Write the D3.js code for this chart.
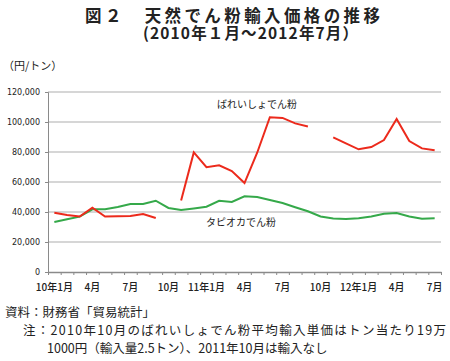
<!DOCTYPE html>
<html>
<head>
<meta charset="utf-8">
<script src="https://cdn.jsdelivr.net/npm/d3@7"></script>
<style>
  body { margin: 0; background: #fff; }
  svg { display: block; }
  .jp { font-family: "Noto Sans CJK JP", "Noto Sans", sans-serif; }
  .num { font-family: "DejaVu Sans", Verdana, sans-serif; }
</style>
</head>
<body>
<div id="chart"></div>
<script>
// months Jan 2010 .. Jul 2012
const months = d3.range(31).map(i => i);

const tickLabels = ["10年1月", "4月", "7月", "10月", "11年1月", "4月", "7月", "10月", "12年1月", "4月", "7月"];
const tickIndex = [0, 3, 6, 9, 12, 15, 18, 21, 24, 27, 30];

const yTicks = [0, 20000, 40000, 60000, 80000, 100000, 120000];

// ばれいしょでん粉 (null = no data point drawn)
const potato = [
  39500, 38000, 37000, 42800, 37000, 37100, 37300, 38600, 36000, null,
  47600, 79700, 69900, 71100, 67300, 59300, 79500, 103200, 102700, 99100,
  97000, null, 89800, 85800, 81800, 83300, 88000, 102000, 87300, 82400,
  81100
];

// タピオカでん粉
const tapioca = [
  33300, 35200, 36900, 41800, 41900, 43400, 45300, 45300, 47500, 42700,
  41300, 42400, 43500, 47500, 46700, 50500, 50000, 48000, 46000, 43200,
  40500, 37000, 35700, 35300, 35900, 37000, 38800, 39300, 37000, 35500,
  35800
];

const width = 450, height = 361;
const plot = { left: 48, right: 441, top: 92, bottom: 272 };

const svg = d3.select("#chart").append("svg")
  .attr("width", width)
  .attr("height", height);

const x = d3.scaleBand()
  .domain(months)
  .range([plot.left, plot.right])
  .padding(0);

const xEdge = d3.scaleLinear()
  .domain([0, months.length])
  .range([plot.left, plot.right]);

const y = d3.scaleLinear()
  .domain([0, 120000])
  .range([plot.bottom, plot.top]);

// title
svg.append("text")
  .attr("class", "jp")
  .attr("x", 85).attr("y", 22)
  .attr("font-size", 16.5).attr("font-weight", 700)
  .attr("textLength", 295).attr("lengthAdjust", "spacing")
  .attr("fill", "#222")
  .text("図２　天然でん粉輸入価格の推移");

svg.append("text")
  .attr("class", "jp")
  .attr("x", 143).attr("y", 39)
  .attr("font-size", 15.5).attr("font-weight", 700)
  .attr("textLength", 215).attr("lengthAdjust", "spacing")
  .attr("fill", "#222")
  .text("(2010年１月～2012年7月）");

svg.append("text")
  .attr("class", "jp")
  .attr("x", 3).attr("y", 70)
  .attr("font-size", 11)
  .attr("fill", "#222")
  .text("（円/トン）");

// grid
svg.append("g")
  .selectAll("line")
  .data(yTicks.filter(d => d > 0))
  .join("line")
  .attr("x1", plot.left).attr("x2", plot.right)
  .attr("y1", d => y(d)).attr("y2", d => y(d))
  .attr("stroke", "#c8c8c8")
  .attr("stroke-width", 1.5);

// y axis
svg.append("g")
  .attr("transform", "translate(" + plot.left + ",0)")
  .call(d3.axisLeft(y).tickValues(yTicks).tickFormat(d3.format(",")).tickSize(3).tickPadding(5))
  .call(g => g.selectAll("path, line").attr("stroke", "#8a8a8a"))
  .call(g => g.selectAll("text")
    .attr("class", "num")
    .attr("font-size", 8)
    .attr("fill", "#222"));

// x axis (ticks at month boundaries)
svg.append("g")
  .attr("transform", "translate(0," + plot.bottom + ")")
  .call(d3.axisBottom(xEdge).tickValues(d3.range(months.length + 1)).tickFormat("").tickSize(3).tickSizeOuter(0))
  .call(g => g.select(".domain").attr("stroke", "#8a8a8a").attr("stroke-width", 1.5))
  .call(g => g.selectAll(".tick line").attr("stroke", "#8a8a8a"));

svg.append("g")
  .selectAll("text")
  .data(tickIndex)
  .join("text")
  .attr("class", "jp")
  .attr("x", d => x(d) + x.bandwidth() / 2)
  .attr("y", 291)
  .attr("text-anchor", "middle")
  .attr("font-size", 10)
  .attr("font-weight", 500)
  .attr("fill", "#222")
  .text((d, i) => tickLabels[i]);

// lines
const line = d3.line()
  .defined(d => d != null)
  .x((d, i) => x(i) + x.bandwidth() / 2)
  .y(d => y(d));

svg.append("path")
  .datum(tapioca)
  .attr("fill", "none")
  .attr("stroke", "#35a94a")
  .attr("stroke-width", 2)
  .attr("d", line);

svg.append("path")
  .datum(potato)
  .attr("fill", "none")
  .attr("stroke", "#ec2a1c")
  .attr("stroke-width", 2)
  .attr("d", line);

// series labels
svg.append("text")
  .attr("class", "jp")
  .attr("x", 217).attr("y", 108)
  .attr("font-size", 10)
  .attr("fill", "#222")
  .text("ばれいしょでん粉");

svg.append("text")
  .attr("class", "jp")
  .attr("x", 206).attr("y", 226)
  .attr("font-size", 10)
  .attr("fill", "#222")
  .text("タピオカでん粉");

// notes
svg.append("text")
  .attr("class", "jp")
  .attr("x", 5).attr("y", 317)
  .attr("font-size", 12.5)
  .attr("fill", "#222")
  .text("資料：財務省「貿易統計」");

svg.append("text")
  .attr("class", "jp")
  .attr("x", 23).attr("y", 335)
  .attr("font-size", 12.5)
  .attr("textLength", 423).attr("lengthAdjust", "spacing")
  .attr("fill", "#222")
  .text("注：2010年10月のばれいしょでん粉平均輸入単価はトン当たり19万");

svg.append("text")
  .attr("class", "jp")
  .attr("x", 47).attr("y", 353)
  .attr("font-size", 12.5)
  .attr("fill", "#222")
  .text("1000円（輸入量2.5トン）、2011年10月は輸入なし");
</script>
</body>
</html>
